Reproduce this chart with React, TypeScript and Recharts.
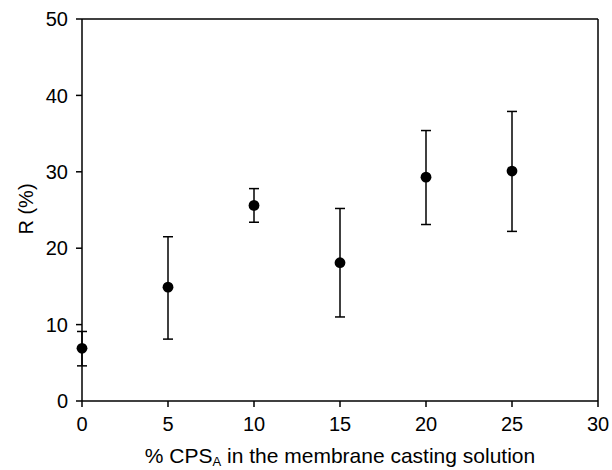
import {
  ScatterChart,
  Scatter,
  XAxis,
  YAxis,
  ErrorBar,
  ReferenceLine,
} from "recharts";

const cpsPercent = [0, 5, 10, 15, 20, 25];
const rejection = [6.9, 14.9, 25.6, 18.1, 29.3, 30.1];
const errLow = [4.6, 8.1, 23.4, 11.0, 23.1, 22.2];
const errHigh = [9.1, 21.5, 27.8, 25.2, 35.4, 37.9];
const xTicks = [0, 5, 10, 15, 20, 25, 30];
const yTicks = [0, 10, 20, 30, 40, 50];

const data = cpsPercent.map((x, i) => ({
  x,
  y: rejection[i],
  err: [rejection[i] - errLow[i], errHigh[i] - rejection[i]],
}));

const FONT = "'Liberation Sans', Arial, sans-serif";
const tickStyle = { fontSize: 20, fill: "#000", fontFamily: FONT };

const Dot = (props: any) => <circle cx={props.cx} cy={props.cy} r={5.4} fill="#000" />;

const XLabel = (props: any) => {
  const vb = props.viewBox;
  const cx = vb.x + vb.width / 2;
  return (
    <text x={cx} y={463} textAnchor="middle" fontSize={21} fontFamily={FONT} fill="#000">
      % CPS
      <tspan fontSize={13} dy={3}>A</tspan>
      <tspan dy={-3}> in the membrane casting solution</tspan>
    </text>
  );
};

const YLabel = () => (
  <text
    x={33}
    y={209}
    transform="rotate(-90, 33, 209)"
    textAnchor="middle"
    fontSize={20}
    fontFamily={FONT}
    fill="#000"
  >
    R (%)
  </text>
);

export default function App() {
  return (
    <div style={{ position: "absolute", left: 0, top: 0, background: "#fff" }}>
      <ScatterChart width={612} height={470} margin={{ top: 19, right: 14, left: 0, bottom: 0 }}>
        <XAxis
          type="number"
          dataKey="x"
          domain={[0, 30]}
          ticks={xTicks}
          height={69}
          tick={tickStyle}
          tickSize={6}
          tickMargin={10}
          stroke="#000"
          strokeWidth={1.5}
          tickLine={{ stroke: "#000", strokeWidth: 1.5 }}
          label={<XLabel />}
        />
        <YAxis
          type="number"
          dataKey="y"
          domain={[0, 50]}
          ticks={yTicks}
          width={82}
          tick={tickStyle}
          tickSize={6}
          tickMargin={8}
          stroke="#000"
          strokeWidth={1.5}
          tickLine={{ stroke: "#000", strokeWidth: 1.5 }}
          label={<YLabel />}
        />
        <ReferenceLine y={50} stroke="#000" strokeWidth={1.5} />
        <ReferenceLine x={30} stroke="#000" strokeWidth={1.5} />
        <Scatter data={data} shape={<Dot />} isAnimationActive={false}>
          <ErrorBar dataKey="err" direction="y" width={5} stroke="#000" strokeWidth={1.5} />
        </Scatter>
      </ScatterChart>
    </div>
  );
}
